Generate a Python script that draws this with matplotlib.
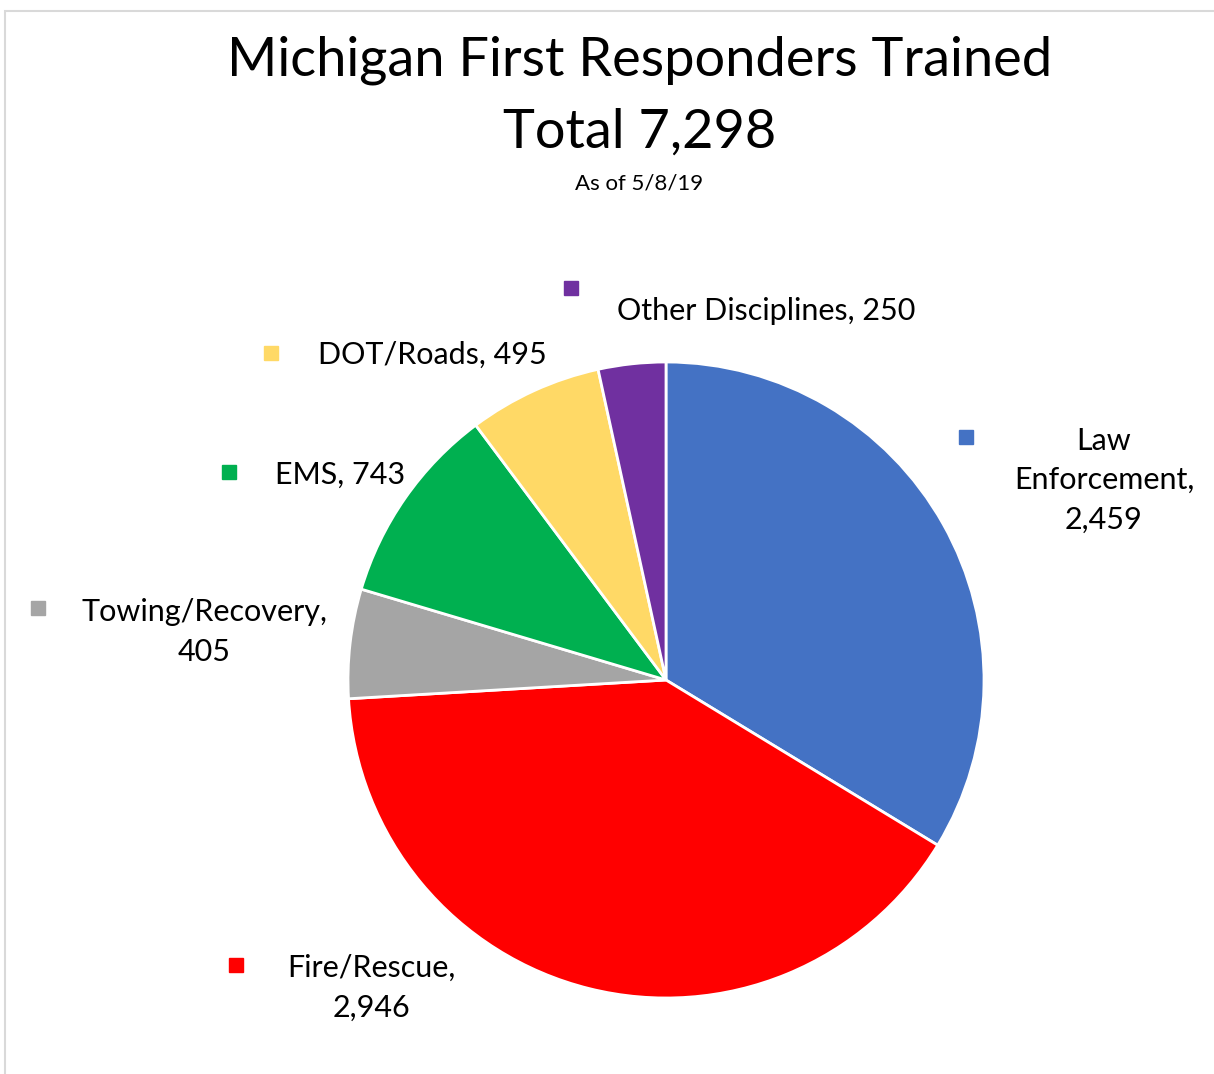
import matplotlib.pyplot as plt
from matplotlib.patches import Rectangle

categories = ['Law Enforcement', 'Fire/Rescue', 'Towing/Recovery', 'EMS', 'DOT/Roads', 'Other Disciplines']
values = [2459, 2946, 405, 743, 495, 250]
colors = ['#4472C4', '#FF0000', '#A5A5A5', '#00B050', '#FFD966', '#7030A0']

plt.rcParams['font.family'] = ['Lato', 'DejaVu Sans']

W, H = 1214, 1074
fig = plt.figure(figsize=(W / 100, H / 100), dpi=100)
ax = fig.add_axes([0, 0, 1, 1])
ax.set_xlim(0, W)
ax.set_ylim(0, H)
ax.set_aspect('equal')
ax.axis('off')

# chart frame
ax.add_patch(Rectangle((5, -20), W + 40, H - 11 + 20, fill=False, edgecolor='#D9D9D9', lw=1.5))

ax.pie(values, colors=colors, startangle=90, counterclock=False,
       center=(666, H - 680), radius=318,
       wedgeprops=dict(edgecolor='white', linewidth=2))
ax.set_xlim(0, W)
ax.set_ylim(0, H)

def fmt(v):
    return f'{v:,}'

# label layout: (marker x, marker y, text x, text y, ha, text)
labels = [
    (966, 437, 1104, 480, 'center', 'Law\nEnforcement,\n' + fmt(values[0])),
    (236, 965, 371, 988, 'center', 'Fire/Rescue,\n' + fmt(values[1])),
    (38, 608, 204, 632, 'center', 'Towing/Recovery,\n' + fmt(values[2])),
    (229, 472, 275, 475, 'left', 'EMS, ' + fmt(values[3])),
    (271, 353, 318, 355, 'left', 'DOT/Roads, ' + fmt(values[4])),
    (571, 288, 617, 311, 'left', 'Other Disciplines, ' + fmt(values[5])),
]
for (mx, my, tx, ty, ha, txt), c in zip(labels, colors):
    ax.plot(mx, H - my, marker='s', markersize=10, color=c, linestyle='none')
    ax.text(tx, H - ty, txt, ha=ha, va='center', fontsize=22, linespacing=1.5,
            multialignment='center', color='black')

ax.text(640, H - 60, 'Michigan First Responders Trained', ha='center', va='center', fontsize=39)
ax.text(640, H - 132, 'Total 7,298', ha='center', va='center', fontsize=39)
ax.text(639, H - 183, 'As of 5/8/19', ha='center', va='center', fontsize=16)

plt.savefig('out.png', dpi=100)
plt.close()
